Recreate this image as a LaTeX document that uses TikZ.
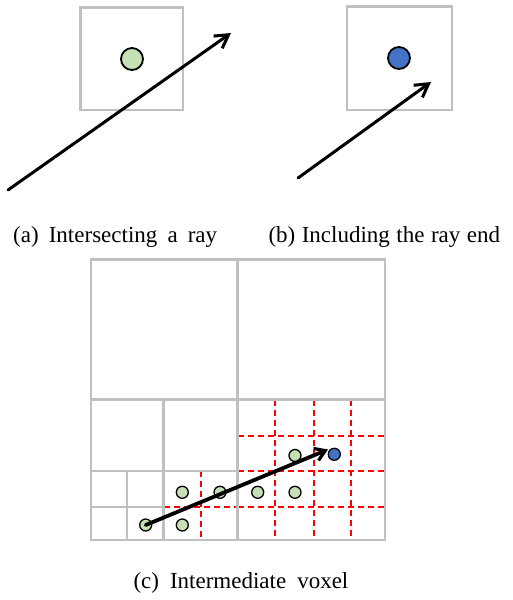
\documentclass[tikz,border=0pt]{standalone}
\usepackage{fontspec}
\setmainfont{Liberation Serif}
\usetikzlibrary{arrows.meta}
\definecolor{boxgray}{RGB}{192,192,192}
\definecolor{ptgreen}{RGB}{197,224,180}
\definecolor{ptblue}{RGB}{68,114,196}
\definecolor{gridred}{RGB}{255,0,0}
\newcommand\capfont{\fontsize{23}{27}\selectfont}
\newcommand\captext[2]{{\spaceskip=#1 plus 0pt minus 0pt #2}}
\tikzset{
  voxel/.style={draw=boxgray, line width=2.2pt},
  subgrid/.style={draw=gridred, line width=1.8pt, dash pattern=on 6pt off 4pt},
  bigpt/.style={circle, draw=black, line width=1.8pt, minimum size=22pt, inner sep=0pt},
  smallpt/.style={circle, draw=black, line width=1.3pt, minimum size=12pt, inner sep=0pt},
  greenpt/.style={fill=ptgreen},
  bluept/.style={fill=ptblue},
  bigray/.style={draw=black, line width=3pt, line cap=round, -{Straight Barb[length=13pt, width=15pt, line width=3pt]}},
  smallray/.style={draw=black, line width=3.8pt, line cap=round, -{Straight Barb[length=10pt, width=13pt, line width=3.2pt]}},
  caption/.style={anchor=base west, inner sep=0pt, font=\capfont}
}
\begin{document}
\begin{tikzpicture}[x=1pt, y=-1pt]
\useasboundingbox (0,0) rectangle (512,600);
% ---------- (a) ----------
\draw[voxel] (80.5,7.5) rectangle (183,110);
\node[bigpt, greenpt] (pa) at (132,59) {};
\coordinate (ra0) at (8,190);
\coordinate (ra1) at (231,33);
\draw[bigray] (ra0) -- (ra1);
\node[caption] (capa) at (13,242) {\captext{10.1pt}{(a) Intersecting a ray}};
% ---------- (b) ----------
\draw[voxel] (347,6.5) rectangle (452,110);
\node[bigpt, bluept] (pb) at (399,58) {};
\coordinate (rb0) at (298,178);
\coordinate (rb1) at (431,82);
\draw[bigray] (rb0) -- (rb1);
\node[caption] (capb) at (268.3,242) {\captext{6.5pt}{(b) Including the ray end}};
% ---------- (c) ----------
% red dashed subdivisions
\draw[subgrid] (201,470.7) -- (201,540);
\draw[subgrid] (163.5,507.3) -- (237.5,507.3);
\draw[subgrid] (275,399.5) -- (275,540);
\draw[subgrid] (314.3,399.5) -- (314.3,540);
\draw[subgrid] (350.7,399.5) -- (350.7,540);
\draw[subgrid] (237.5,435.7) -- (385,435.7);
\draw[subgrid] (237.5,470.7) -- (385,470.7);
\draw[subgrid] (237.5,507.3) -- (385,507.3);
% gray octree cells
\draw[voxel] (91,259.5) rectangle (385,540);
\draw[voxel] (237.5,259.5) -- (237.5,540);
\draw[voxel] (91,399.5) -- (385,399.5);
\draw[voxel] (163.5,399.5) -- (163.5,540);
\draw[voxel] (91,470.7) -- (237.5,470.7);
\draw[voxel] (126.8,470.7) -- (126.8,540);
\draw[voxel] (91,507.3) -- (163.5,507.3);
% points
\node[smallpt, greenpt] (c1) at (145.7,525) {};
\node[smallpt, greenpt] (c2) at (182.3,525) {};
\node[smallpt, greenpt] (c3) at (182.3,492.3) {};
\node[smallpt, greenpt] (c4) at (220,492.3) {};
\node[smallpt, greenpt] (c5) at (257.7,492.3) {};
\node[smallpt, greenpt] (c6) at (295,492.3) {};
\node[smallpt, greenpt] (c7) at (295,455.5) {};
\node[smallpt, bluept] (c8) at (334.3,454.3) {};
\coordinate (rc1) at (328,449.5);
\draw[smallray] (c1.center) -- (rc1);
\node[caption] (capc) at (133.3,588) {\captext{11pt}{(c) Intermediate voxel}};
\end{tikzpicture}
\end{document}
